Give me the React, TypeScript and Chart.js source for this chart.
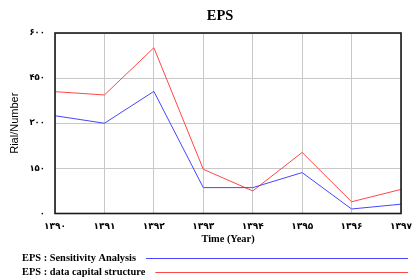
import React, { useEffect, useRef } from "react";
import { Chart, registerables } from "chart.js";

Chart.register(...registerables);

const years = ["۱۳۹۰", "۱۳۹۱", "۱۳۹۲", "۱۳۹۳", "۱۳۹۴", "۱۳۹۵", "۱۳۹۶", "۱۳۹۷"];
const sensitivityAnalysis = [325, 300, 406, 86, 86, 136, 15, 31];
const dataCapitalStructure = [405, 394, 551, 147, 75, 203, 39, 80];
const yTickValues = [0, 150, 300, 450, 600];
const yTickLabels = ["۰", "۱۵۰", "۳۰۰", "۴۵۰", "۶۰۰"];
const seriesNames = ["EPS : Sensitivity Analysis", "EPS : data capital structure"];
const seriesColors = ["rgb(70,70,255)", "rgb(255,70,70)"];
const chartTitle = "EPS";
const xTitle = "Time (Year)";
const yTitle = "Rial/Number";

const decorPlugin = {
  id: "decor",
  afterDraw(chart: any) {
    const { ctx, chartArea } = chart;
    ctx.save();
    ctx.strokeStyle = "#1a1a1a";
    ctx.lineWidth = 1.6;
    ctx.strokeRect(chartArea.left, chartArea.top, chartArea.right - chartArea.left, chartArea.bottom - chartArea.top);
    ctx.fillStyle = "#000";
    ctx.font = "bold 14.5px 'Liberation Serif'";
    ctx.textAlign = "center";
    ctx.textBaseline = "middle";
    ctx.fillText(chartTitle, 220, 16);
    ctx.font = "bold 10.4px 'Liberation Serif'";
    ctx.textAlign = "left";
    const ys = [258.5, 272.5];
    seriesNames.forEach((name, i) => {
      ctx.fillStyle = "#000";
      ctx.fillText(name, 22, ys[i]);
      const w = ctx.measureText(name).width;
      ctx.strokeStyle = seriesColors[i];
      ctx.lineWidth = 1;
      ctx.beginPath();
      ctx.moveTo(22 + w + 10, ys[i]);
      ctx.lineTo(408, ys[i]);
      ctx.stroke();
    });
    ctx.restore();
  },
};

export default function App() {
  const ref = useRef<HTMLCanvasElement>(null);
  useEffect(() => {
    const chart = new Chart(ref.current!, {
      type: "line",
      data: {
        labels: years,
        datasets: [
          {
            label: seriesNames[0],
            data: sensitivityAnalysis,
            borderColor: seriesColors[0],
            borderWidth: 1,
            pointRadius: 0,
            tension: 0,
          },
          {
            label: seriesNames[1],
            data: dataCapitalStructure,
            borderColor: seriesColors[1],
            borderWidth: 1,
            pointRadius: 0,
            tension: 0,
          },
        ],
      },
      options: {
        animation: false,
        responsive: false,
        maintainAspectRatio: false,
        layout: { autoPadding: false, padding: { top: 33, right: 10, bottom: 31, left: 0 } },
        plugins: { legend: { display: false }, title: { display: false }, tooltip: { enabled: false } },
        scales: {
          x: {
            offset: false,
            afterFit: (s: any) => {
              s.height = 34.5;
            },
            grid: { color: "#c8c8c8", drawTicks: false },
            border: { display: false },
            ticks: {
              padding: 8,
              color: "#000",
              maxRotation: 0,
              autoSkip: false,
              font: { family: "'DejaVu Sans'", size: 9, weight: "bold" },
            },
            title: {
              display: true,
              text: xTitle,
              color: "#000",
              padding: { top: 0, bottom: 2 },
              font: { family: "'Liberation Serif'", size: 10.4, weight: "bold" },
            },
          },
          y: {
            min: 0,
            max: 600,
            afterFit: (s: any) => {
              s.width = 55;
            },
            afterBuildTicks: (s: any) => {
              s.ticks = yTickValues.map((v) => ({ value: v }));
            },
            grid: { color: "#c8c8c8", drawTicks: false },
            border: { display: false },
            ticks: {
              padding: 10,
              color: "#000",
              font: { family: "'DejaVu Sans'", size: 8.5, weight: "bold" },
              callback: (v: any) => yTickLabels[yTickValues.indexOf(Number(v))],
            },
            title: {
              display: true,
              text: yTitle,
              color: "#000",
              padding: { top: 8, bottom: 0 },
              font: { family: "'Liberation Sans'", size: 11 },
            },
          },
        },
      },
      plugins: [decorPlugin],
    });
    return () => chart.destroy();
  }, []);
  return (
    <div style={{ position: "fixed", left: 0, top: 0, width: 420, height: 279, background: "#fff" }}>
      <canvas ref={ref} width={420} height={279} style={{ width: 420, height: 279 }} />
    </div>
  );
}
